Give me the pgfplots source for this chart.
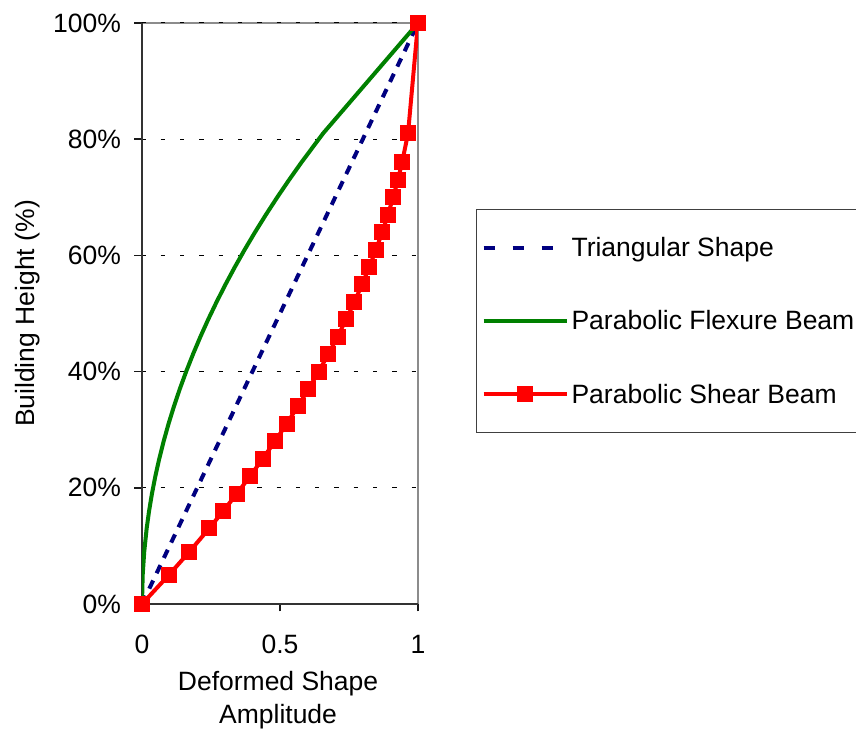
\documentclass[border=0pt]{standalone}
\usepackage{pgfplots}
\pgfplotsset{compat=1.18}
\usepackage{fontspec}
\setmainfont{Liberation Sans}
\definecolor{navyc}{RGB}{0,0,128}
\definecolor{greenc}{RGB}{0,128,0}
\definecolor{redc}{RGB}{255,0,0}
\begin{document}
\begin{tikzpicture}
\path[use as bounding box] (0pt,0pt) rectangle (856pt,733pt);
\begin{axis}[
  scale only axis,
  width=276pt, height=581pt,
  at={(142pt,129pt)}, anchor=south west,
  xmin=0, xmax=1, ymin=0, ymax=100,
  axis x line*=bottom, axis y line*=left,
  axis line style={black!80, line width=1.5pt},
  axis background/.style={draw=black!45, line width=2pt},
  xtick align=outside, ytick align=outside,
  major tick length=7.5pt,
  major tick style={solid, black!90, line width=1.6pt},
  xtick={0,0.5,1},
  xticklabels={0,0.5,1},
  ytick={0,20,40,60,80,100},
  yticklabels={0\%,20\%,40\%,60\%,80\%,100\%},
  yticklabel style={xshift=-10pt},
  xticklabel style={yshift=-20pt},
  ymajorgrids,
  major grid style={black, line width=1pt, dash pattern=on 4.3pt off 15pt, dash phase=0.6pt},
  font=\fontsize{26.5}{33}\selectfont,
  ticklabel style={font=\fontsize{26.5}{33}\selectfont},
  xlabel={Deformed Shape\\Amplitude},
  ylabel={Building Height (\%)},
  xlabel style={align=center, at={(axis description cs:0.493,-0.165)}, anchor=center},
  ylabel style={at={(axis description cs:-0.413,0.5)}, anchor=center},
  legend style={at={(axis description cs:1.210,0.680)}, anchor=north west,
    draw=black!75, line width=1.2pt, fill=white,
    inner xsep=5pt, inner ysep=28pt, row sep=52.5pt,
    font=\fontsize{26.5}{33}\selectfont,
    nodes={inner sep=0pt},
    /tikz/every odd column/.append style={column sep=3pt}},
  legend cell align=left,
  legend image code/.code={\draw[mark repeat=2,mark phase=2,#1] plot coordinates {(0pt,0pt) (41.5pt,0pt) (83pt,0pt)};},
]
\addplot[navyc, line width=4pt, dash pattern=on 9pt off 8pt, legend image post style={dash pattern=on 11pt off 18pt}] coordinates {
(0,0) (0.05,5) (0.09,9) (0.13,13) (0.16,16) (0.19,19) (0.22,22) (0.25,25) (0.28,28) (0.31,31) (0.34,34) (0.37,37) (0.40,40) (0.43,43) (0.46,46) (0.49,49) (0.52,52) (0.55,55) (0.58,58) (0.61,61) (0.64,64) (0.67,67) (0.70,70) (0.73,73) (0.76,76) (0.81,81) (1,100)};
\addlegendentry{Triangular Shape}
\addplot[greenc, line width=4pt] coordinates {
(0,0) (0.0025,5) (0.0081,9) (0.0169,13) (0.0256,16) (0.0361,19) (0.0484,22) (0.0625,25) (0.0784,28) (0.0961,31) (0.1156,34) (0.1369,37) (0.16,40) (0.1849,43) (0.2116,46) (0.2401,49) (0.2704,52) (0.3025,55) (0.3364,58) (0.3721,61) (0.4096,64) (0.4489,67) (0.49,70) (0.5329,73) (0.5776,76) (0.6561,81) (1,100)};
\addlegendentry{Parabolic Flexure Beam}
\addplot[redc, line width=4pt, mark=square*, mark size=6pt, mark options={solid}] coordinates {
(0,0) (0.0975,5) (0.1719,9) (0.2431,13) (0.2944,16) (0.3439,19) (0.3916,22) (0.4375,25) (0.4816,28) (0.5239,31) (0.5644,34) (0.6031,37) (0.64,40) (0.6751,43) (0.7084,46) (0.7399,49) (0.7696,52) (0.7975,55) (0.8236,58) (0.8479,61) (0.8704,64) (0.8911,67) (0.91,70) (0.9271,73) (0.9424,76) (0.9639,81) (1,100)};
\addlegendentry{Parabolic Shear Beam}
\end{axis}
\end{tikzpicture}
\end{document}
